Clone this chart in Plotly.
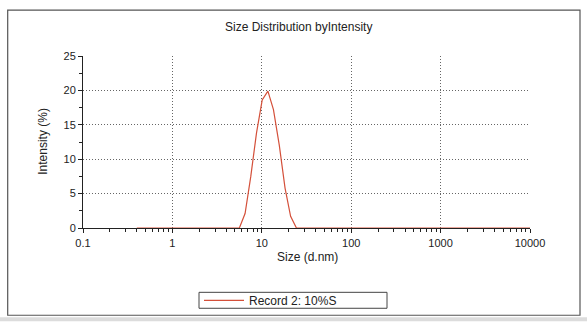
import plotly.graph_objects as go

sizes = [0.4, 5.61, 6.50, 7.53, 8.72, 10.1, 11.7, 13.5, 15.7, 18.2, 21.0, 24.4, 10000]
intensity = [0, 0, 2.1, 7.5, 13.8, 18.6, 19.9, 17.2, 12.0, 5.8, 1.7, 0, 0]
x_tick_vals = [0.1, 1, 10, 100, 1000, 10000]
x_tick_text = ["0.1", "1", "10", "100", "1000", "10000"]
y_tick_vals = [0, 5, 10, 15, 20, 25]

FONT = "Liberation Sans, Arial, sans-serif"
L, R, T, B = 83, 57, 56, 93.5
W, H = 587, 322
pw, ph = W - L - R, H - T - B

def px(x):
    return (x - L) / pw

def py(y):
    return (H - B - y) / ph

fig = go.Figure()
fig.add_trace(go.Scatter(x=sizes, y=intensity, mode="lines",
                         line=dict(color="#d4503a", width=1.2),
                         cliponaxis=False,
                         name="Record 2: 10%S"))

grid = dict(showgrid=True, gridcolor="#666", griddash="1px,2px", gridwidth=1)

fig.update_layout(
    width=W, height=H,
    margin=dict(l=L, r=R, t=T, b=B, pad=0, autoexpand=False),
    paper_bgcolor="white", plot_bgcolor="white",
    font=dict(family=FONT, size=11, color="#222"),
    showlegend=True,
    legend=dict(orientation="h", x=px(199), y=py(301), xanchor="left", yanchor="middle",
                borderwidth=0, entrywidth=150,
                font=dict(size=12, color="#222"), itemwidth=40,
                bgcolor="rgba(0,0,0,0)"),
    xaxis=dict(type="log", range=[-1, 4], tickvals=x_tick_vals, ticktext=x_tick_text,
               **grid, layer="below traces",
               showline=True, linecolor="#222", linewidth=1,
               ticks="outside", ticklen=4, tickcolor="#222", ticklabelstandoff=1,
               minor=dict(ticks="outside", ticklen=3, tickcolor="#222", showgrid=False,
                          dtick="D1"),
               zeroline=False, tickfont=dict(size=11)),
    yaxis=dict(range=[0, 25], tickvals=y_tick_vals,
               **grid, layer="below traces",
               showline=True, linecolor="#222", linewidth=1,
               ticks="outside", ticklen=4, tickcolor="#222",
               minor=dict(ticks="outside", ticklen=3, tickcolor="#222", showgrid=False,
                          tickvals=[2.5, 7.5, 12.5, 17.5, 22.5]),
               zeroline=False, tickfont=dict(size=11)),
)

# outer frame
fig.add_shape(type="rect", xref="paper", yref="paper",
              x0=px(7.7), x1=px(580), y0=py(316), y1=py(10),
              line=dict(color="#555", width=1.2), fillcolor="rgba(0,0,0,0)", layer="below")
# bottom gray band
fig.add_shape(type="rect", xref="paper", yref="paper",
              x0=px(0), x1=px(587), y0=py(322), y1=py(318),
              line=dict(width=0), fillcolor="#dcdcdc", layer="below")
# legend box
fig.add_shape(type="rect", xref="paper", yref="paper",
              x0=px(199), x1=px(387), y0=py(309), y1=py(293),
              line=dict(color="#444", width=1), fillcolor="rgba(0,0,0,0)", layer="below")

ann = dict(xref="paper", yref="paper", showarrow=False, xanchor="center", yanchor="middle")
fig.add_annotation(text="Size Distribution byIntensity", x=px(298), y=py(27),
                   font=dict(size=12, color="#222"), **ann)
fig.add_annotation(text="Size (d.nm)", x=px(307), y=py(258),
                   font=dict(size=12, color="#222"), **ann)
fig.add_annotation(text="Intensity (%)", x=px(43), y=py(142), textangle=-90,
                   font=dict(size=12, color="#222"), **ann)

fig.write_html("out.html")
